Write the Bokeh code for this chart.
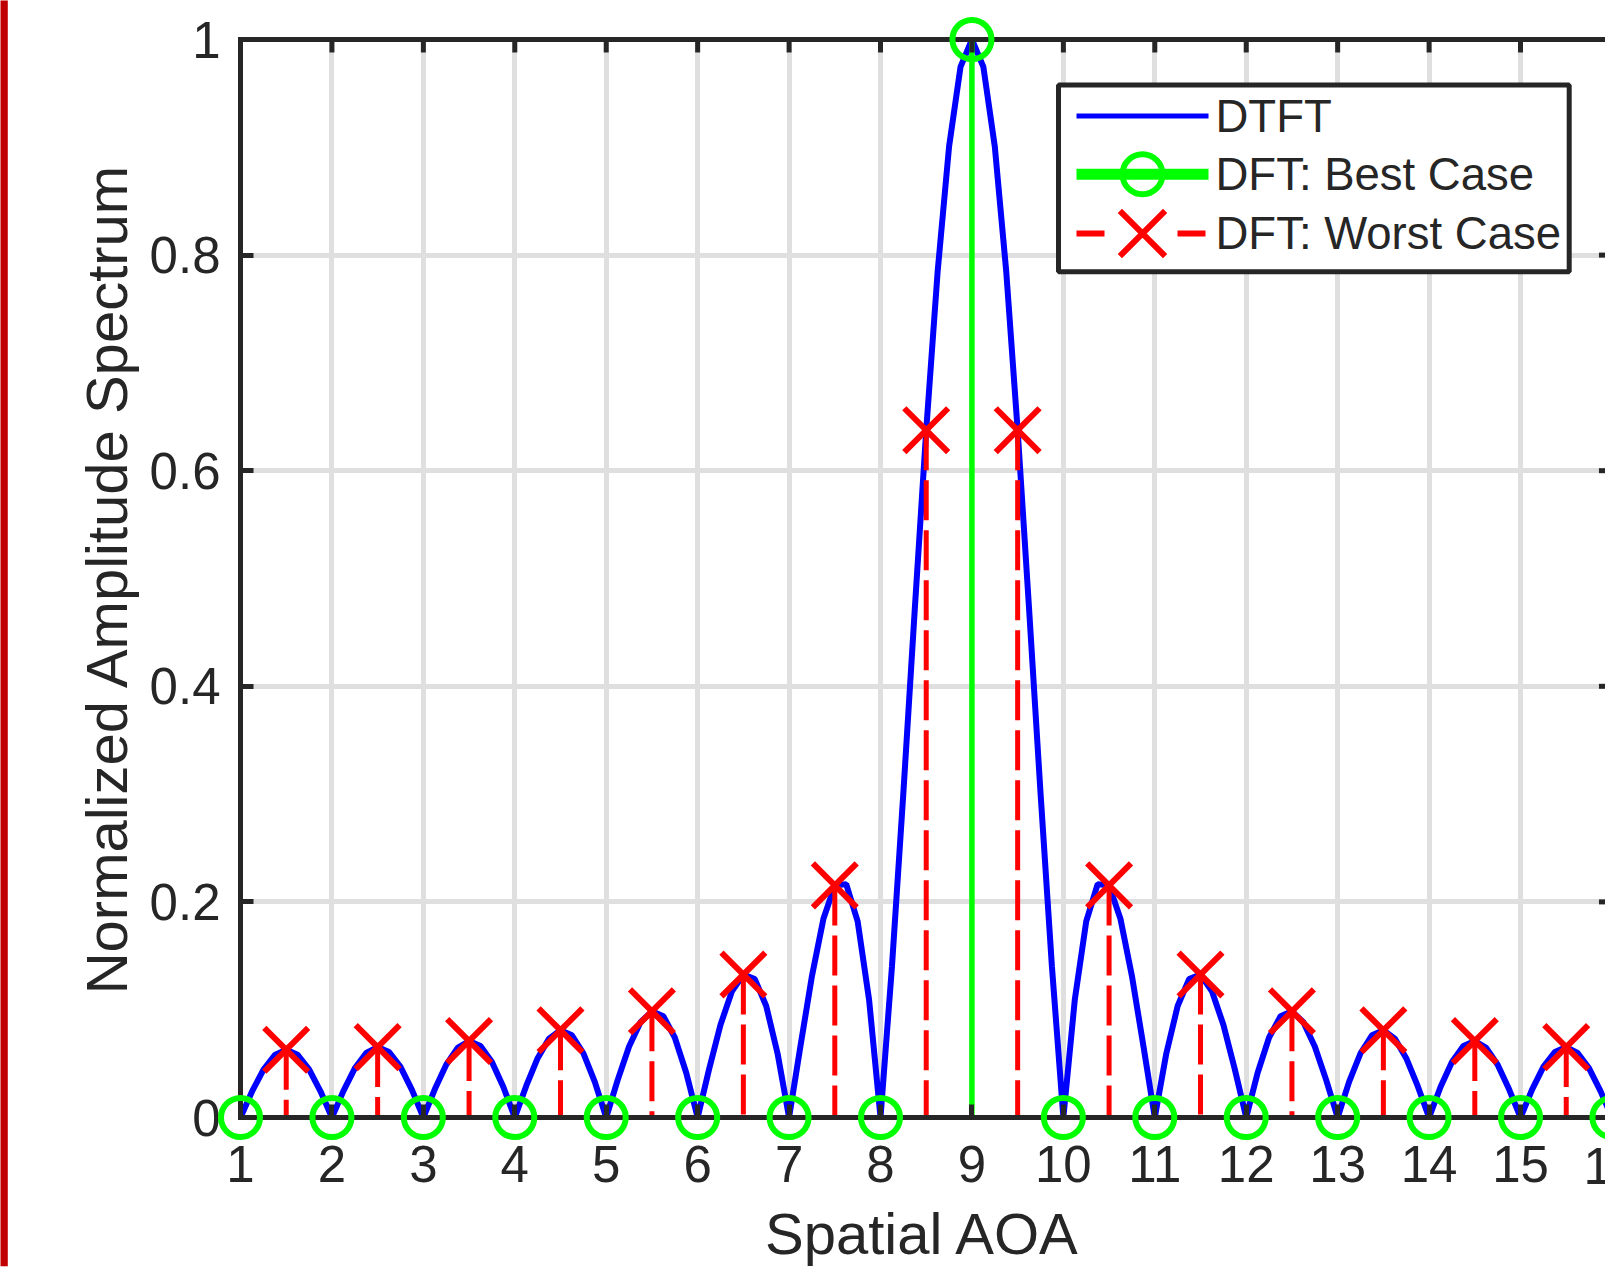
from bokeh.plotting import figure
from bokeh.models import Range1d, FixedTicker, ColumnDataSource
from bokeh.core.properties import value
from bokeh.embed import file_html
from bokeh.resources import INLINE

# ---------------- data ----------------
DTFT_X = [
    1.0, 1.125, 1.25, 1.375, 1.5, 1.625, 1.75, 1.875,
    2.0, 2.125, 2.25, 2.375, 2.5, 2.625, 2.75, 2.875,
    3.0, 3.125, 3.25, 3.375, 3.5, 3.625, 3.75, 3.875,
    4.0, 4.125, 4.25, 4.375, 4.5, 4.625, 4.75, 4.875,
    5.0, 5.125, 5.25, 5.375, 5.5, 5.625, 5.75, 5.875,
    6.0, 6.125, 6.25, 6.375, 6.5, 6.625, 6.75, 6.875,
    7.0, 7.125, 7.25, 7.375, 7.5, 7.625, 7.75, 7.875,
    8.0, 8.125, 8.25, 8.375, 8.5, 8.625, 8.75, 8.875,
    9.0, 9.125, 9.25, 9.375, 9.5, 9.625, 9.75, 9.875,
    10.0, 10.125, 10.25, 10.375, 10.5, 10.625, 10.75, 10.875,
    11.0, 11.125, 11.25, 11.375, 11.5, 11.625, 11.75, 11.875,
    12.0, 12.125, 12.25, 12.375, 12.5, 12.625, 12.75, 12.875,
    13.0, 13.125, 13.25, 13.375, 13.5, 13.625, 13.75, 13.875,
    14.0, 14.125, 14.25, 14.375, 14.5, 14.625, 14.75, 14.875,
    15.0, 15.125, 15.25, 15.375, 15.5, 15.625, 15.75, 15.875,
    16.0,
]
DTFT_Y = [
    0.0, 0.0239, 0.0442, 0.0579, 0.0628, 0.0582, 0.0447, 0.0243,
    0.0, 0.0245, 0.0456, 0.0599, 0.0653, 0.0608, 0.0469, 0.0256,
    0.0, 0.0262, 0.0489, 0.0646, 0.0709, 0.0664, 0.0515, 0.0283,
    0.0, 0.0293, 0.0550, 0.0732, 0.0809, 0.0763, 0.0596, 0.0330,
    0.0, 0.0347, 0.0658, 0.0884, 0.0985, 0.0939, 0.0742, 0.0415,
    0.0, 0.0447, 0.0860, 0.1171, 0.1326, 0.1284, 0.1034, 0.0590,
    0.0, 0.0665, 0.1312, 0.1841, 0.2153, 0.2165, 0.1819, 0.1092,
    0.0, 0.1399, 0.3012, 0.4717, 0.6376, 0.7849, 0.9007, 0.9746,
    1.0, 0.9746, 0.9007, 0.7849, 0.6376, 0.4717, 0.3012, 0.1399,
    0.0, 0.1092, 0.1819, 0.2165, 0.2153, 0.1841, 0.1312, 0.0665,
    0.0, 0.0590, 0.1034, 0.1284, 0.1326, 0.1171, 0.0860, 0.0447,
    0.0, 0.0415, 0.0742, 0.0939, 0.0985, 0.0884, 0.0658, 0.0347,
    0.0, 0.0330, 0.0596, 0.0763, 0.0809, 0.0732, 0.0550, 0.0293,
    0.0, 0.0283, 0.0515, 0.0664, 0.0709, 0.0646, 0.0489, 0.0262,
    0.0, 0.0256, 0.0469, 0.0608, 0.0653, 0.0599, 0.0456, 0.0245,
    0.0,
]
BEST_X = [1, 2, 3, 4, 5, 6, 7, 8, 9, 10, 11, 12, 13, 14, 15, 16]
BEST_Y = [0, 0, 0, 0, 0, 0, 0, 0, 1, 0, 0, 0, 0, 0, 0, 0]
WORST_X = [1.5, 2.5, 3.5, 4.5, 5.5, 6.5, 7.5, 8.5, 9.5, 10.5, 11.5, 12.5, 13.5, 14.5, 15.5]
WORST_Y = [0.0628, 0.0653, 0.0709, 0.0809, 0.0985, 0.1326, 0.2153, 0.6376,
           0.6376, 0.2153, 0.1326, 0.0985, 0.0809, 0.0709, 0.0653]

X_TICKS = [1, 2, 3, 4, 5, 6, 7, 8, 9, 10, 11, 12, 13, 14, 15, 16]
Y_TICKS = [0, 0.2, 0.4, 0.6, 0.8, 1]
Y_TICK_LABELS = ["0", "0.2", "0.4", "0.6", "0.8", "1"]
SERIES_NAMES = ["DTFT", "DFT: Best Case", "DFT: Worst Case"]
X_LABEL = "Spatial AOA"
Y_LABEL = "Normalized Amplitude Spectrum"

# ---------------- style / layout ----------------
FONT = "Liberation Sans"
INK = "#262626"
GRID = "#DFDFDF"
BLUE, GREEN, RED = "#0000FF", "#00FF00", "#FF0000"
EDGE_RED = "#C00000"

W, H = 1605, 1268
LEFT, TOP = 240, 39
FRAME_W = W - LEFT
FRAME_H = 1080
BOTTOM = H - TOP - FRAME_H
PX_PER_UNIT = 91.43
X_END = X_TICKS[0] + FRAME_W / PX_PER_UNIT
TICK_LEN = 13
TICK_DY = TICK_LEN / FRAME_H
TICK_DX = TICK_LEN / PX_PER_UNIT

p = figure(width=W, height=H, x_range=Range1d(X_TICKS[0], X_END),
           y_range=Range1d(Y_TICKS[0], Y_TICKS[-1]),
           output_backend="svg", toolbar_location=None, title=None,
           min_border_left=LEFT, min_border_right=0, min_border_top=TOP,
           min_border_bottom=BOTTOM)
p.outline_line_color = None
p.background_fill_color = "white"
p.border_fill_color = "white"

# pixel-unit ranges (relative to the frame's lower-left corner) for legend/decoration
p.extra_x_ranges = {"px": Range1d(0, FRAME_W)}
p.extra_y_ranges = {"px": Range1d(0, FRAME_H)}


def style_axis(ax):
    ax.axis_line_color = INK
    ax.axis_line_width = 5
    ax.axis_line_cap = "square"
    ax.major_tick_line_color = INK
    ax.major_tick_line_width = 5
    ax.major_tick_in = TICK_LEN
    ax.major_tick_out = 0
    ax.minor_tick_line_color = None
    ax.major_label_text_font = FONT
    ax.major_label_text_font_size = "51px"
    ax.major_label_text_color = INK
    ax.axis_label_text_font = FONT
    ax.axis_label_text_font_size = "58px"
    ax.axis_label_text_font_style = "normal"
    ax.axis_label_text_color = INK


xa = p.xaxis[0]
style_axis(xa)
xa.ticker = FixedTicker(ticks=X_TICKS)
xa.major_label_standoff = 28
xa.axis_label = X_LABEL
xa.axis_label_standoff = 16

ya = p.yaxis[0]
style_axis(ya)
ya.ticker = FixedTicker(ticks=Y_TICKS)
ya.major_label_overrides = dict(zip(Y_TICKS, Y_TICK_LABELS))
ya.major_label_standoff = 20
ya.axis_label = Y_LABEL
ya.axis_label_standoff = 8

p.xgrid.ticker = FixedTicker(ticks=X_TICKS)
p.ygrid.ticker = FixedTicker(ticks=Y_TICKS)
p.grid.grid_line_color = GRID
p.grid.grid_line_width = 5

# box: top border with inward ticks, and the right-hand tick stubs (right border is cut off)
p.segment(x0=[X_TICKS[0]], y0=[Y_TICKS[-1]], x1=[X_END], y1=[Y_TICKS[-1]],
          line_color=INK, line_width=5, level="guide")
p.segment(x0=X_TICKS, y0=[Y_TICKS[-1]] * len(X_TICKS), x1=X_TICKS,
          y1=[Y_TICKS[-1] - TICK_DY] * len(X_TICKS), line_color=INK, line_width=5, level="guide")
p.segment(x0=[X_TICKS[-1]] * len(Y_TICKS), y0=Y_TICKS, x1=[X_TICKS[-1] - TICK_DX] * len(Y_TICKS),
          y1=Y_TICKS, line_color=INK, line_width=5, level="guide")

# ---------------- data marks ----------------
best_src = ColumnDataSource(dict(x=BEST_X, y=BEST_Y))
worst_src = ColumnDataSource(dict(x=WORST_X, y=WORST_Y))

p.line(DTFT_X, DTFT_Y, line_color=BLUE, line_width=6)
p.segment(x0="x", y0="y", x1="x", y1=0, source=best_src, line_color=GREEN, line_width=5.5)
p.segment(x0="x", y0="y", x1="x", y1=0, source=worst_src, line_color=RED, line_width=5,
          line_dash="40 10")
p.scatter("x", "y", source=best_src, marker="circle", size=39, fill_color=None,
          line_color=GREEN, line_width=6, level="overlay")
p.scatter("x", "y", source=worst_src, marker="x", size=62, line_color=RED, line_width=6,
          level="overlay")

# partially visible last tick label at the cut-off right edge
p.text(x=[X_TICKS[-1]], y=[Y_TICKS[0]], text=[str(X_TICKS[-1])], text_align="center",
       text_baseline="alphabetic", y_offset=48, text_font=value(FONT),
       text_font_size="51px", text_color=INK, level="overlay")

# red edge strip visible at the reference's left border
p.quad(left=[-LEFT], right=[-LEFT + 7.3], top=[FRAME_H + TOP], bottom=[-BOTTOM],
       x_range_name="px", y_range_name="px", fill_color=EDGE_RED, line_color=None,
       level="overlay")

# ---------------- legend (pixel units) ----------------
BOX_L, BOX_R, BOX_T, BOX_B = 818, 1328.7, 1034.5, 847.2
ROW_Y = [1003.3, 945, 885.6]
LINE_X0, LINE_X1 = 836, 968
MARK_X = 902
TEXT_X = 975
kw = dict(x_range_name="px", y_range_name="px", level="annotation")

p.quad(left=[BOX_L], right=[BOX_R], top=[BOX_T], bottom=[BOX_B], fill_color="white",
       line_color=INK, line_width=5, **kw)
p.line([LINE_X0, LINE_X1], [ROW_Y[0]] * 2, line_color=BLUE, line_width=5, **kw)
p.line([LINE_X0, LINE_X1], [ROW_Y[1]] * 2, line_color=GREEN, line_width=11, **kw)
p.scatter([MARK_X], [ROW_Y[1]], marker="circle", size=40, fill_color=None,
          line_color=GREEN, line_width=6, **kw)
p.line([LINE_X0, LINE_X1 - 3], [ROW_Y[2]] * 2, line_color=RED, line_width=6,
       line_dash="28 73", **kw)
p.scatter([MARK_X], [ROW_Y[2]], marker="x", size=64, line_color=RED, line_width=6, **kw)
p.text([TEXT_X] * 3, ROW_Y, text=SERIES_NAMES, text_font=value(FONT), text_font_size="45.5px",
       text_baseline="middle", text_color=INK, **kw)

open("out.html", "w").write(file_html(p, INLINE))
